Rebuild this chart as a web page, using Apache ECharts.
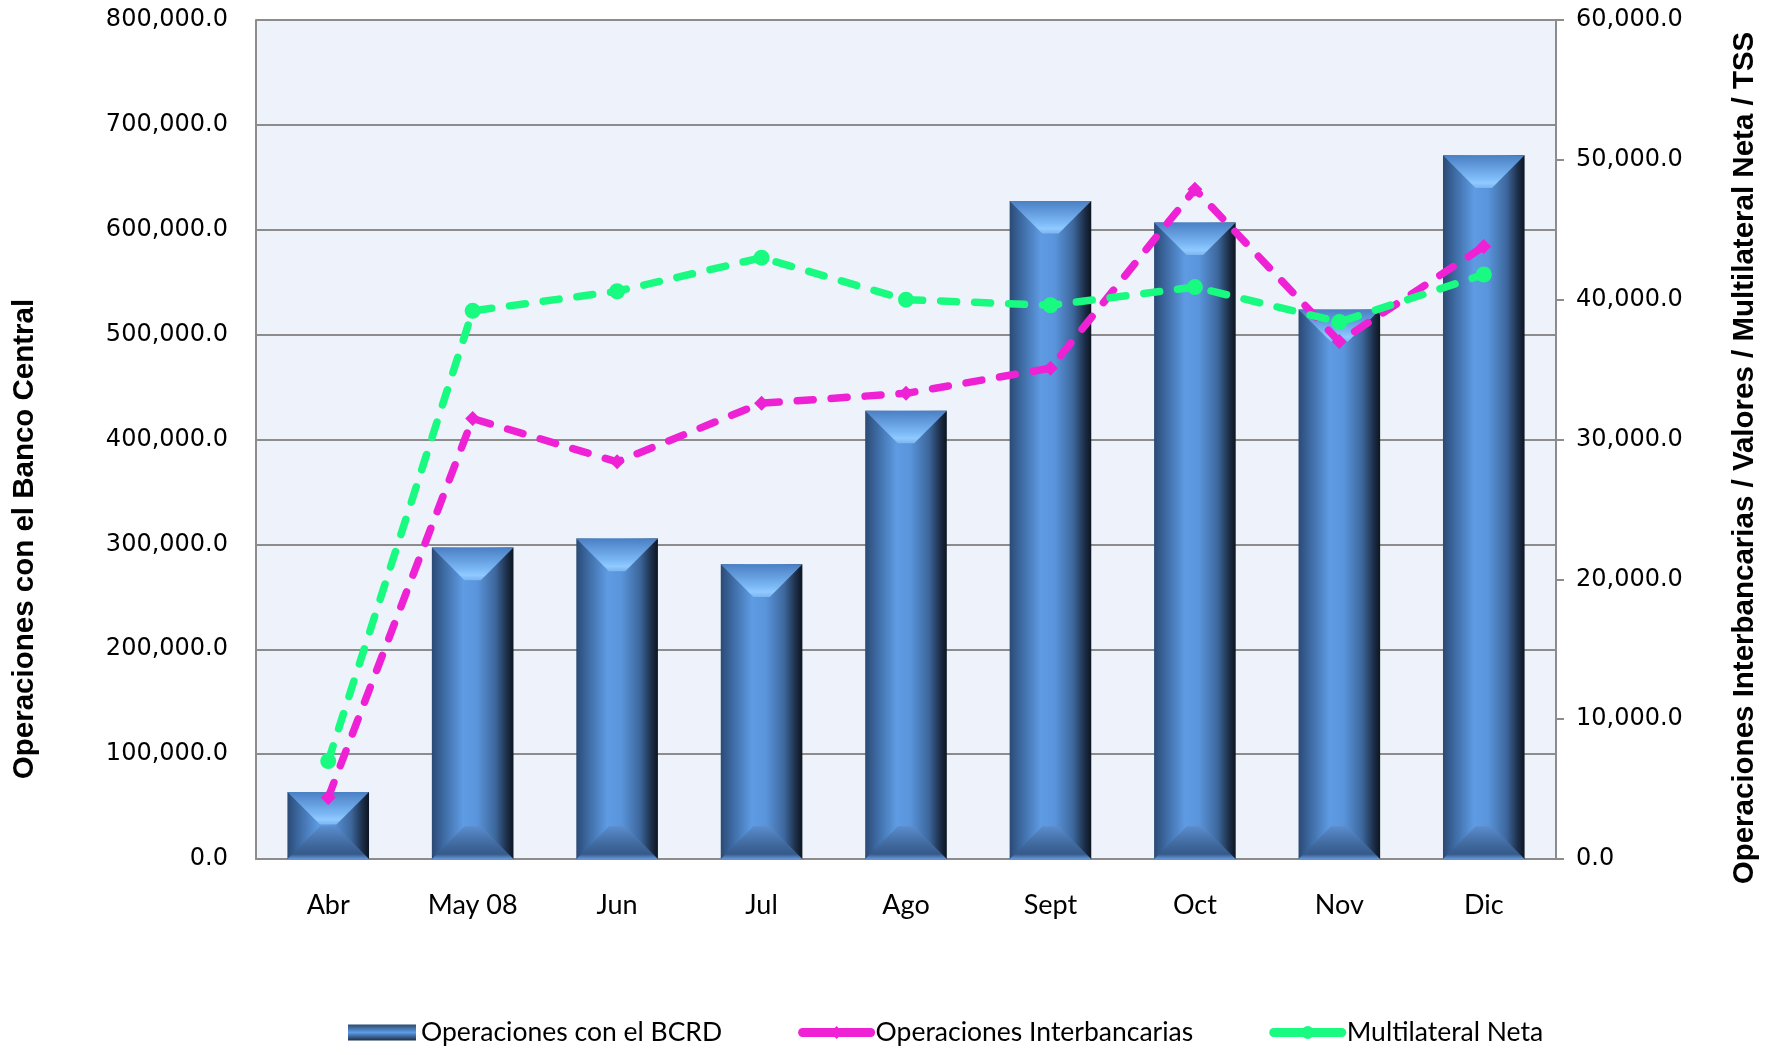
<!DOCTYPE html>
<html>
<head>
<meta charset="utf-8">
<script src="https://cdn.jsdelivr.net/npm/echarts@6/dist/echarts.min.js"></script>
<style>
  html, body { margin: 0; padding: 0; background: #fff; }
  #chart { width: 1775px; height: 1055px; }
</style>
</head>
<body>
<div id="chart"></div>
<script>
// datos
const categories = ['Abr', 'May 08', 'Jun', 'Jul', 'Ago', 'Sept', 'Oct', 'Nov', 'Dic'];
const bcrd = [64000, 297000, 305500, 281000, 427500, 627500, 607000, 524000, 671000];
const interbancarias = [4400, 31500, 28400, 32600, 33300, 35100, 47900, 37000, 43800];
const multilateral = [7000, 39200, 40600, 43000, 40000, 39600, 40900, 38400, 41800];
const leftTicks = { min: 0, max: 800000, interval: 100000 };
const rightTicks = { min: 0, max: 60000, interval: 10000 };

const LG = echarts.graphic.LinearGradient;
const fmt = v => v.toLocaleString('en-US', { minimumFractionDigits: 1, maximumFractionDigits: 1 });

// barra con biselado (estilo Excel)
function renderBevelBar(params, api) {
    const top = api.coord([api.value(0), api.value(1)]);
    const base = api.coord([api.value(0), 0]);
    const w = api.size([1, 0])[0] * 0.565;
    const cx = top[0], x0 = cx - w / 2, x1 = cx + w / 2;
    const yt = top[1], yb = base[1], h = yb - yt;
    const d = Math.min(w * 0.4, h / 2);
    const hw = Math.max(0, w / 2 - d);
    return {
        type: 'group',
        children: [
            {
                type: 'rect',
                shape: { x: x0, y: yt, width: w, height: h },
                style: {
                    fill: new LG(0, 0, 1, 0, [
                        { offset: 0, color: '#2b4a75' },
                        { offset: 0.12, color: '#3a659c' },
                        { offset: 0.38, color: '#5e9be3' },
                        { offset: 0.55, color: '#5a95dc' },
                        { offset: 0.78, color: '#3d679c' },
                        { offset: 0.92, color: '#1c2e48' },
                        { offset: 1, color: '#0d1520' }
                    ])
                }
            },
            {
                type: 'polygon',
                shape: { points: [[x0, yb], [x1, yb], [cx + hw, yb - d], [cx - hw, yb - d]] },
                style: {
                    fill: new LG(0, 0, 0, 1, [
                        { offset: 0, color: '#5a8dce' },
                        { offset: 0.45, color: '#456fa6' },
                        { offset: 0.85, color: '#35598a' },
                        { offset: 1, color: '#6696d6' }
                    ])
                }
            },
            {
                type: 'polygon',
                shape: { points: [[x0, yt], [x1, yt], [cx + hw, yt + d], [cx - hw, yt + d]] },
                style: {
                    fill: new LG(0, 0, 0, 1, [
                        { offset: 0, color: '#4a7fc4' },
                        { offset: 0.65, color: '#7ab6f4' },
                        { offset: 0.85, color: '#90caff' },
                        { offset: 1, color: '#7cb4f0' }
                    ])
                }
            }
        ]
    };
}

const chart = echarts.init(document.getElementById('chart'));
const option = {
    backgroundColor: '#ffffff',
    animation: false,
    grid: {
        left: 256, right: 219, top: 20, bottom: 196,
        show: true, backgroundColor: '#eef2fa', borderWidth: 0
    },
    legend: {
        left: 343, top: 1014,
        itemWidth: 68, itemHeight: 16, itemGap: 76,
        textStyle: { fontFamily: 'Lato', fontSize: 26.5, color: '#000' },
        data: [
            {
                name: 'Operaciones con el BCRD', icon: 'rect',
                itemStyle: {
                    color: new LG(0, 0, 0, 1, [
                        { offset: 0, color: '#2c4a72' },
                        { offset: 0.5, color: '#5e9be3' },
                        { offset: 1, color: '#1c2e48' }
                    ])
                }
            },
            {
                name: 'Operaciones Interbancarias',
                lineStyle: { width: 9, type: 'solid', cap: 'round' }
            },
            {
                name: 'Multilateral Neta',
                lineStyle: { width: 9, type: 'solid', cap: 'round' }
            }
        ]
    },
    xAxis: {
        type: 'category',
        data: categories,
        axisLine: { lineStyle: { color: '#8c8c8c', width: 2 } },
        axisTick: { show: false },
        axisLabel: { margin: 33, fontFamily: 'Lato', fontSize: 27, color: '#000' }
    },
    yAxis: [
        {
            type: 'value', min: leftTicks.min, max: leftTicks.max, interval: leftTicks.interval,
            axisLine: { show: true, lineStyle: { color: '#8c8c8c', width: 2 } },
            axisTick: { show: false },
            splitLine: { lineStyle: { color: '#8c8c8c', width: 2 } },
            axisLabel: { formatter: fmt, margin: 28, fontFamily: 'DejaVu Sans', fontSize: 24, color: '#000' }
        },
        {
            type: 'value', min: rightTicks.min, max: rightTicks.max, interval: rightTicks.interval,
            position: 'right',
            axisLine: { show: true, lineStyle: { color: '#8c8c8c', width: 2 } },
            axisTick: { show: true, length: 8, lineStyle: { color: '#8c8c8c', width: 2 } },
            splitLine: { show: false },
            axisLabel: { formatter: fmt, margin: 20, fontFamily: 'DejaVu Sans', fontSize: 24, color: '#000' }
        }
    ],
    series: [
        {
            name: 'Operaciones con el BCRD',
            type: 'custom',
            renderItem: renderBevelBar,
            encode: { x: 0, y: 1 },
            itemStyle: { color: '#4f86c8' },
            data: bcrd.map((v, i) => [i, v]),
            z: 2
        },
        {
            name: 'Operaciones Interbancarias',
            type: 'line',
            yAxisIndex: 1,
            data: interbancarias,
            symbol: 'diamond', symbolSize: 15,
            itemStyle: { color: '#ee22d4' },
            lineStyle: { color: '#ee22d4', width: 7.5, type: [16, 18], cap: 'round' },
            z: 3
        },
        {
            name: 'Multilateral Neta',
            type: 'line',
            yAxisIndex: 1,
            data: multilateral,
            symbol: 'circle', symbolSize: 16,
            itemStyle: { color: '#19fb80' },
            lineStyle: { color: '#19fb80', width: 7.5, type: [16, 18], cap: 'round' },
            z: 4
        }
    ],
    graphic: [
        {
            type: 'text', x: 25, y: 539, rotation: Math.PI / 2,
            style: {
                text: 'Operaciones con el Banco Central',
                font: 'bold 29.5px "Liberation Sans"', fill: '#000',
                align: 'center', verticalAlign: 'middle'
            }
        },
        {
            type: 'text', x: 1745, y: 458, rotation: Math.PI / 2,
            style: {
                text: 'Operaciones Interbancarias / Valores / Multilateral Neta / TSS',
                font: 'bold 29.5px "Liberation Sans"', fill: '#000',
                align: 'center', verticalAlign: 'middle'
            }
        }
    ]
};
chart.setOption(option);
</script>
</body>
</html>
